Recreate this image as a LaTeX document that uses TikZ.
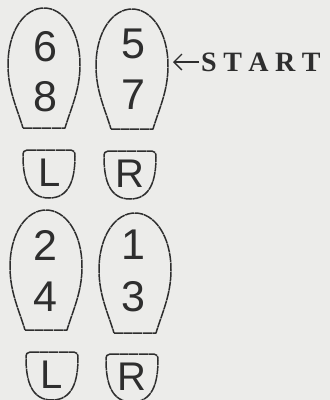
\documentclass[tikz,border=0pt]{standalone}
\usepackage{fontspec}
\setmainfont{Liberation Sans}
\newfontfamily\startfont{Liberation Serif}
\usetikzlibrary{arrows.meta}
\definecolor{ink}{HTML}{2E2E2E}
\definecolor{paper}{HTML}{ECECEA}
\tikzset{
  outline/.style={draw=ink, line width=1.5pt, dash pattern=on 9pt off 0.6pt, line join=round},
  digit/.style={inner sep=0pt, text=ink, font=\fontsize{43}{43}\selectfont},
  heelletter/.style={inner sep=0pt, text=ink, font=\fontsize{40}{40}\selectfont},
  sole/.pic={
    \path[outline] (-21,120) -- (21,120)
      .. controls (27,100) and (36,82) .. (36,57)
      .. controls (36,22) and (19,0) .. (0,0)
      .. controls (-19,0) and (-36,22) .. (-36,57)
      .. controls (-36,82) and (-27,100) .. (-21,120) -- cycle;
  },
  heel/.pic={
    \path[outline] (-22,0) -- (22,0)
      .. controls (25,0) and (26,2) .. (26,6)
      .. controls (26,30) and (20,48) .. (0,48)
      .. controls (-20,48) and (-26,30) .. (-26,6)
      .. controls (-26,2) and (-25,0) .. (-22,0) -- cycle;
  }
}
\begin{document}
\begin{tikzpicture}[x=1pt,y=-1pt]
  \fill[paper] (0,0) rectangle (330,400);
  \useasboundingbox (0,0) rectangle (330,400);
  % top pair
  \pic at (44,8) {sole};
  \pic at (132,9) {sole};
  \node[digit] (n6) at (45,47) {6};
  \node[digit] (n8) at (45,97) {8};
  \node[digit] (n5) at (133,44) {5};
  \node[digit] (n7) at (133,95) {7};
  \pic at (49,150) {heel};
  \pic at (130,151) {heel};
  \node[heelletter] (l1) at (50,173) {L};
  \node[heelletter] (r1) at (130,174) {R};
  % arrow and START
  \coordinate (arrS) at (199,62);
  \coordinate (arrE) at (173,62);
  \draw[ink, line width=1.3pt, -{Straight Barb[length=8pt,width=16pt]}] (arrS) -- (arrE);
  \node[inner sep=0pt, text=ink, font=\startfont\bfseries\fontsize{28}{28}\selectfont, anchor=west] (start) at (201,62)
    {S\hspace{6.5pt}T\hspace{6.5pt}A\hspace{6.5pt}R\hspace{6.5pt}T};
  % bottom pair
  \pic at (46,210) {sole};
  \pic at (135,213) {sole};
  \node[digit] (n2) at (45,245) {2};
  \node[digit] (n4) at (45,297) {4};
  \node[digit] (n1) at (133,245) {1};
  \node[digit] (n3) at (133,297) {3};
  \pic at (52,352) {heel};
  \pic at (132,354) {heel};
  \node[heelletter] (l2) at (52,375) {L};
  \node[heelletter] (r2) at (132,377) {R};
\end{tikzpicture}
\end{document}
